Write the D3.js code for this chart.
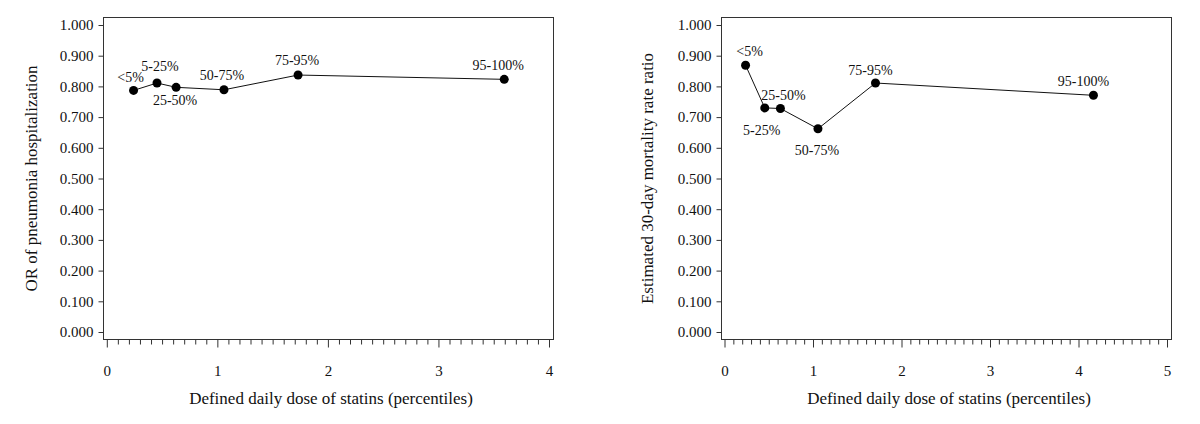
<!DOCTYPE html>
<html>
<head>
<meta charset="utf-8">
<script src="https://cdn.jsdelivr.net/npm/d3@7"></script>
<style>
  html, body { margin: 0; padding: 0; background: #fff; }
  svg { display: block; }
  text { font-family: "Liberation Serif", "Times New Roman", serif; fill: #111; }
</style>
</head>
<body>
<svg id="chart" width="1200" height="424"></svg>
<script>
// ---- data ----
const categories = ["<5%", "5-25%", "25-50%", "50-75%", "75-95%", "95-100%"];
const leftDose = [0.242, 0.454, 0.627, 1.06, 1.73, 3.595];
const leftOR = [0.787, 0.811, 0.797, 0.789, 0.837, 0.823];
const rightDose = [0.238, 0.455, 0.632, 1.056, 1.706, 4.169];
const rightRatio = [0.869, 0.730, 0.728, 0.662, 0.811, 0.771];
const yTicks = [0, 0.1, 0.2, 0.3, 0.4, 0.5, 0.6, 0.7, 0.8, 0.9, 1.0];
const leftXTicks = [0, 1, 2, 3, 4];
const rightXTicks = [0, 1, 2, 3, 4, 5];
const xTitle = "Defined daily dose of statins (percentiles)";
const leftYTitle = "OR of pneumonia hospitalization";
const rightYTitle = "Estimated 30-day mortality rate ratio";

// label placement (offset of label centre from point, px)
const leftLabelOffsets = [[-3,-13],[3,-17],[-1,13],[-2,-15],[-1,-15],[-6,-14]];
const rightLabelOffsets = [[4,-14],[-3,22],[3,-14],[-1,21],[-5,-13.5],[-10,-14]];

const svg = d3.select("#chart");

function panel(opts) {
  const g = svg.append("g");
  const x = d3.scaleLinear().domain([0, opts.xMax]).range([opts.x0, opts.x1]);
  const y = d3.scaleLinear().domain([0, 1]).range([opts.yZero, opts.yOne]);
  const frameTop = 17, frameBottom = 339;

  // frame
  g.append("rect")
    .attr("x", opts.fx0 + 0.5).attr("y", frameTop + 0.5)
    .attr("width", opts.fx1 - opts.fx0).attr("height", frameBottom - frameTop)
    .attr("fill", "none").attr("stroke", "#333").attr("stroke-width", 1);

  // y axis
  const yAxis = d3.axisLeft(y).tickValues(yTicks).tickFormat(d3.format(".3f")).tickSize(5).tickPadding(5);
  const ya = g.append("g").attr("transform", `translate(${opts.fx0 + 0.5},0)`).call(yAxis);
  ya.select(".domain").remove();
  ya.selectAll("line").attr("stroke", "#333");
  ya.selectAll("text").style("font-size", "15px").style("font-family", "Liberation Serif").attr("fill", "#111");

  // x axis major
  const xAxis = d3.axisBottom(x).tickValues(opts.xTicks).tickFormat(d3.format("d")).tickSize(8).tickPadding(18);
  const xa = g.append("g").attr("transform", `translate(0,${frameBottom + 0.5})`).call(xAxis);
  xa.select(".domain").remove();
  xa.selectAll("line").attr("stroke", "#333");
  xa.selectAll("text").style("font-size", "15px").style("font-family", "Liberation Serif").attr("fill", "#111");

  // x axis minor
  const minor = d3.range(0, opts.xMax * 10 + 1).map(i => i / 10).filter(v => Math.abs(v - Math.round(v)) > 1e-6);
  const xMinor = d3.axisBottom(x).tickValues(minor).tickFormat("").tickSize(5);
  const xm = g.append("g").attr("transform", `translate(0,${frameBottom + 0.5})`).call(xMinor);
  xm.select(".domain").remove();
  xm.selectAll("line").attr("stroke", "#333");

  // line
  const pts = opts.xs.map((v, i) => [v, opts.ys[i]]);
  g.append("path")
    .datum(pts)
    .attr("fill", "none").attr("stroke", "#111").attr("stroke-width", 1)
    .attr("d", d3.line().x(d => x(d[0])).y(d => y(d[1])));

  // points
  g.selectAll("circle.pt").data(pts).join("circle")
    .attr("class", "pt")
    .attr("cx", d => x(d[0])).attr("cy", d => y(d[1])).attr("r", 4.5)
    .attr("fill", "#000");

  // point labels
  g.selectAll("text.lbl").data(pts).join("text")
    .attr("class", "lbl")
    .attr("x", (d, i) => x(d[0]) + opts.offsets[i][0])
    .attr("y", (d, i) => y(d[1]) + opts.offsets[i][1] + 5)
    .attr("text-anchor", "middle")
    .style("font-size", "14px")
    .text((d, i) => categories[i]);

  // titles
  g.append("text")
    .attr("x", (opts.fx0 + opts.fx1) / 2 + 3).attr("y", 404)
    .attr("text-anchor", "middle").style("font-size", "17px")
    .text(xTitle);
  g.append("text")
    .attr("transform", `translate(${opts.ytx},${(y(0) + y(1)) / 2}) rotate(-90)`)
    .attr("text-anchor", "middle").attr("dominant-baseline", "central")
    .style("font-size", "17px")
    .text(opts.yTitle);
}

panel({
  xs: leftDose, ys: leftOR, xMax: 4, xTicks: leftXTicks,
  x0: 106.8, x1: 549, fx0: 103, fx1: 553,
  yZero: 332, yOne: 25, offsets: leftLabelOffsets,
  yTitle: leftYTitle, ytx: 31
});
panel({
  xs: rightDose, ys: rightRatio, xMax: 5, xTicks: rightXTicks,
  x0: 724.5, x1: 1167, fx0: 721, fx1: 1171,
  yZero: 332, yOne: 25, offsets: rightLabelOffsets,
  yTitle: rightYTitle, ytx: 647
});
</script>
</body>
</html>
